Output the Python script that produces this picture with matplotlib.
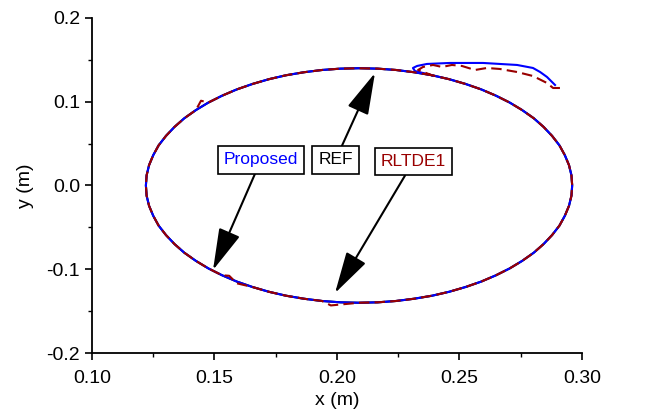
import numpy as np
import matplotlib
matplotlib.use('Agg')
import matplotlib.pyplot as plt
from matplotlib.ticker import MultipleLocator, FormatStrFormatter

plt.rcParams['font.family'] = ['Liberation Sans', 'DejaVu Sans']

# reference ellipse (clockwise, starting near the top right)
ref_x = [0.2388, 0.2458, 0.2525, 0.2589, 0.2649, 0.2705, 0.2756, 0.2803, 0.2843,
         0.2878, 0.2908, 0.2930, 0.2947, 0.2957, 0.2960, 0.2957, 0.2947, 0.2930,
         0.2908, 0.2878, 0.2843, 0.2803, 0.2756, 0.2705, 0.2649, 0.2589, 0.2525,
         0.2458, 0.2388, 0.2315, 0.2241, 0.2166, 0.2090, 0.2014, 0.1939, 0.1865,
         0.1792, 0.1722, 0.1655, 0.1591, 0.1531, 0.1475, 0.1424, 0.1377, 0.1337,
         0.1302, 0.1272, 0.1250, 0.1233, 0.1223, 0.1220, 0.1223, 0.1233, 0.1250,
         0.1272, 0.1302, 0.1337, 0.1377, 0.1424, 0.1475, 0.1531, 0.1591, 0.1655,
         0.1722, 0.1792, 0.1865, 0.1939, 0.2014, 0.2090, 0.2166, 0.2241, 0.2315,
         0.2388]
ref_y = [0.1316, 0.1269, 0.1212, 0.1147, 0.1072, 0.0990, 0.0900, 0.0803, 0.0700,
         0.0592, 0.0479, 0.0362, 0.0243, 0.0122, 0.0000, -0.0122, -0.0243, -0.0362,
         -0.0479, -0.0592, -0.0700, -0.0803, -0.0900, -0.0990, -0.1072, -0.1147, -0.1212,
         -0.1269, -0.1316, -0.1352, -0.1379, -0.1395, -0.1400, -0.1395, -0.1379, -0.1352,
         -0.1316, -0.1269, -0.1212, -0.1147, -0.1072, -0.0990, -0.0900, -0.0803, -0.0700,
         -0.0592, -0.0479, -0.0362, -0.0243, -0.0122, 0.0000, 0.0122, 0.0243, 0.0362,
         0.0479, 0.0592, 0.0700, 0.0803, 0.0900, 0.0990, 0.1072, 0.1147, 0.1212,
         0.1269, 0.1316, 0.1352, 0.1379, 0.1395, 0.1400, 0.1395, 0.1379, 0.1352,
         0.1316]

# proposed: start-up transient, then the loop
prop_start_x = [0.2890, 0.2857, 0.2829, 0.2800, 0.2735, 0.2665, 0.2596, 0.2461,
                0.2367, 0.2327, 0.2310, 0.2318]
prop_start_y = [0.1200, 0.1296, 0.1355, 0.1403, 0.1439, 0.1451, 0.1463, 0.1463,
                0.1451, 0.1427, 0.1403, 0.1367]

# RLTDE1: transient plus loop with a few small wiggles
rl_start_x = [0.2910, 0.2882, 0.2857, 0.2800, 0.2735, 0.2665, 0.2612, 0.2563,
              0.2510, 0.2469, 0.2429, 0.2392, 0.2351, 0.2331]
rl_start_y = [0.1164, 0.1164, 0.1224, 0.1307, 0.1355, 0.1391, 0.1403, 0.1379,
              0.1427, 0.1439, 0.1415, 0.1439, 0.1415, 0.1379]
rl_loop_x = [0.2388, 0.2458, 0.2525, 0.2589, 0.2649, 0.2705, 0.2756, 0.2803, 0.2843,
             0.2878, 0.2908, 0.2930, 0.2947, 0.2957, 0.2960, 0.2957, 0.2947, 0.2930,
             0.2908, 0.2878, 0.2843, 0.2803, 0.2756, 0.2705, 0.2649, 0.2589, 0.2525,
             0.2458, 0.2388, 0.2315, 0.2241, 0.2166, 0.2090, 0.1975, 0.1939, 0.1865,
             0.1792, 0.1722, 0.1655, 0.1591, 0.1560, 0.1531, 0.1475, 0.1424, 0.1377, 0.1337,
             0.1302, 0.1272, 0.1250, 0.1233, 0.1223, 0.1220, 0.1223, 0.1233, 0.1250,
             0.1272, 0.1302, 0.1337, 0.1377, 0.1424, 0.1445, 0.1475, 0.1531, 0.1591, 0.1655,
             0.1722, 0.1792, 0.1865, 0.1939, 0.2014, 0.2090, 0.2166, 0.2241, 0.2315,
             0.2388]
rl_loop_y = [0.1316, 0.1269, 0.1212, 0.1147, 0.1072, 0.0990, 0.0900, 0.0803, 0.0700,
             0.0592, 0.0479, 0.0362, 0.0243, 0.0122, 0.0000, -0.0122, -0.0243, -0.0362,
             -0.0479, -0.0592, -0.0700, -0.0803, -0.0900, -0.0990, -0.1072, -0.1147, -0.1212,
             -0.1269, -0.1316, -0.1352, -0.1379, -0.1395, -0.1400, -0.1432, -0.1379, -0.1352,
             -0.1316, -0.1269, -0.1212, -0.1168, -0.1078, -0.1072, -0.0990, -0.0900, -0.0803, -0.0700,
             -0.0592, -0.0479, -0.0362, -0.0243, -0.0122, 0.0000, 0.0122, 0.0243, 0.0362,
             0.0479, 0.0592, 0.0700, 0.0803, 0.0900, 0.1012, 0.0990, 0.1072, 0.1147, 0.1212,
             0.1269, 0.1316, 0.1352, 0.1379, 0.1395, 0.1400, 0.1395, 0.1379, 0.1352,
             0.1316]

labels = ['Proposed', 'REF', 'RLTDE1']
label_xy = [(0.1690, 0.0305), (0.1994, 0.0305), (0.2312, 0.0287)]
tip_xy = [(0.1494, -0.1009), (0.2155, 0.1343), (0.1992, -0.1284)]

blue = '#0000ff'
red = '#990000'

fig = plt.figure(figsize=(6.46, 4.18), dpi=100)
ax = fig.add_axes([0.1424, 0.1555, 0.7585, 0.8015])

ax.plot(ref_x, ref_y, color='black', lw=1.5)
ax.plot(prop_start_x + ref_x, prop_start_y + ref_y, color=blue, lw=1.5)
ax.plot(rl_start_x + rl_loop_x, rl_start_y + rl_loop_y, color=red, lw=1.5,
        linestyle=(0, (5, 2.5)))

for lab, col, pos, tip in zip(labels, [blue, 'black', red], label_xy, tip_xy):
    ax.annotate(lab, xy=tip, xytext=pos, color=col, fontsize=12.5,
                ha='center', va='center',
                bbox=dict(boxstyle='square,pad=0.35', fc='white', ec='black', lw=1.2),
                arrowprops=dict(arrowstyle='-|>,head_length=1.3,head_width=0.35',
                                color='black', lw=1.5, mutation_scale=20,
                                shrinkA=0, shrinkB=0))

ax.set_xlim(0.10, 0.30)
ax.set_ylim(-0.2, 0.2)
ax.xaxis.set_major_locator(MultipleLocator(0.05))
ax.xaxis.set_minor_locator(MultipleLocator(0.025))
ax.yaxis.set_major_locator(MultipleLocator(0.1))
ax.yaxis.set_minor_locator(MultipleLocator(0.05))
ax.xaxis.set_major_formatter(FormatStrFormatter('%.2f'))
ax.yaxis.set_major_formatter(FormatStrFormatter('%.1f'))

ax.spines['top'].set_visible(False)
ax.spines['right'].set_visible(False)
for s in ['left', 'bottom']:
    ax.spines[s].set_linewidth(1.3)
ax.tick_params(which='major', direction='out', length=5, width=1.2, labelsize=14)
ax.tick_params(axis='x', which='major', pad=7)
ax.tick_params(which='minor', direction='out', length=3, width=1.0)

ax.set_xlabel('x (m)', fontsize=14, labelpad=4)
ax.set_ylabel('y (m)', fontsize=14, labelpad=9)

fig.savefig('out.png', dpi=100)
